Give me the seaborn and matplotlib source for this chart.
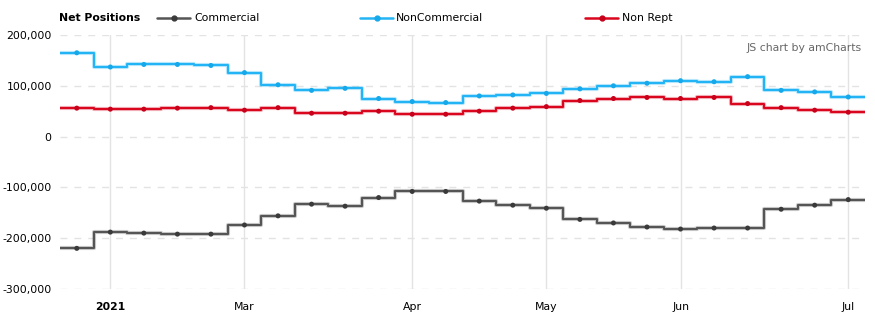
import matplotlib
matplotlib.use("Agg")
import matplotlib.pyplot as plt
import seaborn as sns
import pandas as pd
import numpy as np
from matplotlib.lines import Line2D
from matplotlib.ticker import FuncFormatter

# Weekly net positions (contracts), one entry per report
commercial = [-220000, -188000, -190000, -192000, -192000, -174000, -156000, -133000,
              -137000, -120000, -108000, -108000, -127000, -135000, -141000, -163000,
              -170000, -178000, -182000, -180000, -180000, -143000, -135000, -124000]
noncommercial = [165000, 137000, 142000, 142000, 140000, 126000, 102000, 91000,
                 95000, 75000, 69000, 67000, 80000, 82000, 85000, 94000,
                 100000, 105000, 110000, 108000, 118000, 91000, 88000, 78000]
non_rept = [56000, 54000, 54000, 56000, 57000, 52000, 57000, 46000,
            46000, 50000, 44000, 44000, 50000, 56000, 59000, 71000,
            75000, 77000, 75000, 77000, 65000, 57000, 52000, 48000]

tick_positions = [1, 5, 10, 14, 18, 23]
tick_labels = ["2021", "Mar", "Apr", "May", "Jun", "Jul"]

series_names = ["Commercial", "NonCommercial", "Non Rept"]
line_colors = ["#555555", "#22b4f4", "#d9061e"]
dot_colors = ["#3a3a3a", "#15a8ea", "#c8001a"]

week = np.arange(len(commercial))
df = pd.DataFrame({"week": week, "Commercial": commercial,
                   "NonCommercial": noncommercial, "Non Rept": non_rept})
long = df.melt(id_vars="week", var_name="series", value_name="net")

sns.set_theme(style="white")
plt.rcParams["font.family"] = ["DejaVu Sans"]

fig = plt.figure(figsize=(8.75, 3.22), dpi=100)
ax = fig.add_axes([60 / 875, 1 - 289 / 322, 805 / 875, 254 / 322])

for name, lc, dc in zip(series_names, line_colors, dot_colors):
    sub = long[long["series"] == name]
    xs = np.concatenate([[-0.5], sub["week"].values, [len(week) - 0.5]])
    ys = np.concatenate([[sub["net"].values[0]], sub["net"].values, [sub["net"].values[-1]]])
    # soft halo under the step line
    ax.step(xs, ys, where="mid", color=lc, lw=3.0, alpha=0.3, zorder=3)
    ax.step(xs, ys, where="mid", color=lc, lw=1.5, zorder=4)
    sns.scatterplot(data=sub, x="week", y="net", ax=ax, color=dc, s=13,
                    edgecolor="none", zorder=5, legend=False)

ax.set_xlim(-0.5, len(week) - 0.5)
ax.set_ylim(-300000, 200000)
ax.set_yticks([-300000, -200000, -100000, 0, 100000, 200000])
ax.yaxis.set_major_formatter(FuncFormatter(lambda v, p: f"{int(v):,}"))
ax.set_xticks(tick_positions)
ax.set_xticklabels(tick_labels)
for lbl in ax.get_xticklabels():
    if lbl.get_text() == "2021":
        lbl.set_fontweight("bold")

ax.tick_params(axis="both", length=0, labelsize=7.8, colors="#000000")
ax.tick_params(axis="y", pad=6)
ax.tick_params(axis="x", pad=9)
ax.set_xlabel("")
ax.set_ylabel("")

ax.grid(False)
for y in [-300000, -200000, -100000, 0, 100000, 200000]:
    ax.axhline(y, color="#e3e3e3", lw=1, ls=(0, (5, 5)), zorder=1)
for x in tick_positions:
    ax.axvline(x, color="#e3e3e3", lw=1, zorder=1)
for s in ax.spines.values():
    s.set_visible(False)

# Legend row across the top
fig.text(59 / 875, 1 - 18 / 322, "Net Positions", fontsize=7.8, fontweight="bold",
         va="center", ha="left", color="#000000")
legend_x = [(157, 194), (360, 396), (585, 622)]
for (lx, tx), name, lc, dc in zip(legend_x, series_names, line_colors, dot_colors):
    y = 1 - 18 / 322
    fig.add_artist(Line2D([lx / 875, (lx + 33) / 875], [y, y], transform=fig.transFigure,
                          color=lc, lw=1.8))
    fig.add_artist(Line2D([(lx + 16.5) / 875], [y], transform=fig.transFigure,
                          marker="o", markersize=3.5, color=dc, lw=0))
    fig.text(tx / 875, y, name, fontsize=7.8, va="center", ha="left", color="#000000")

fig.text(862 / 875, 1 - 48 / 322, "JS chart by amCharts", fontsize=7.8,
         va="center", ha="right", color="#666666")

fig.savefig("out.png", dpi=100)
